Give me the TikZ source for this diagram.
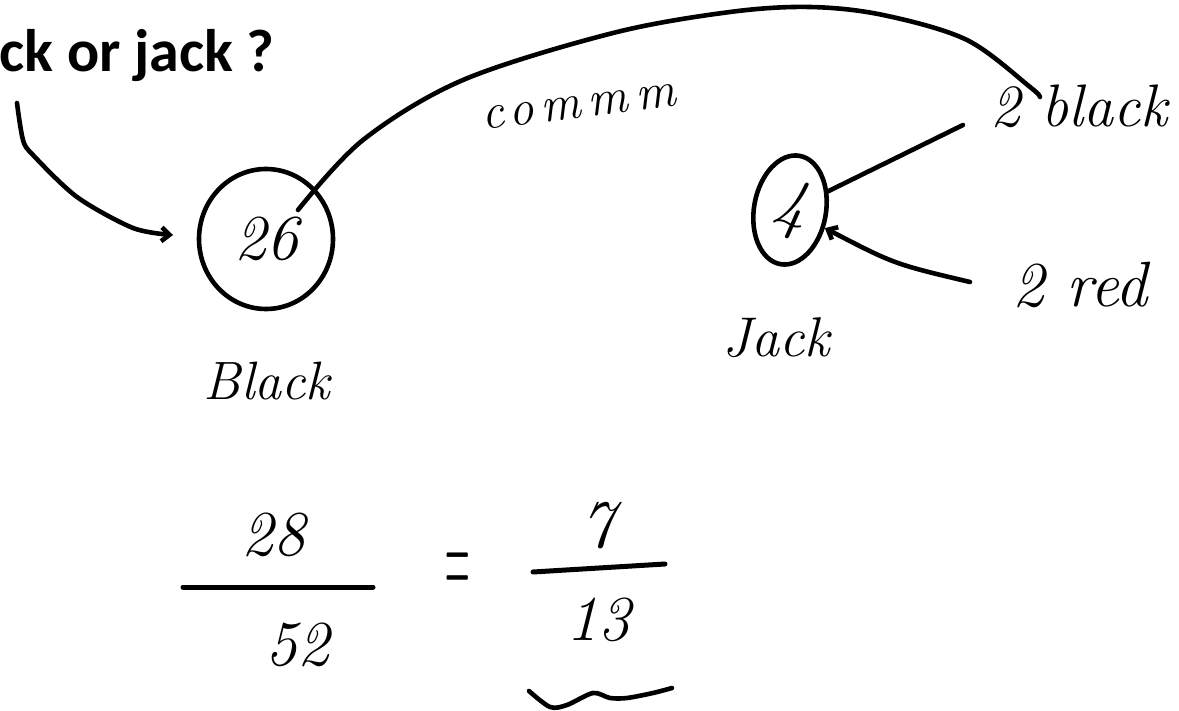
\documentclass[tikz,border=0pt]{standalone}
\usepackage{fontspec}
\newfontfamily\titlefont{Carlito}
\newfontfamily\spacedit{Latin Modern Roman}[LetterSpace=15]
\usetikzlibrary{arrows.meta,shapes.geometric}
\begin{document}
\begin{tikzpicture}[x=0.5pt,y=-0.5pt, line cap=round, line join=round,
  hand/.style={font=\fontsize{#1}{#1}\selectfont\itshape, inner sep=0pt},
  ink/.style={line width=2.3pt},
  tip/.style={-{Straight Barb[length=4pt,width=7pt]}}]
\useasboundingbox[fill=white] (0,0) rectangle (1179,711);

% title
\node[font=\fontsize{30}{30}\selectfont\titlefont\bfseries, inner sep=0pt, anchor=base east] (title) at (275,72) {ck or jack ?};

% circles
\node[draw, ink, ellipse, minimum width=67pt, minimum height=70pt, inner sep=0pt, hand=32] (n26) at (266,239) {26};
\node[draw, ink, ellipse, minimum width=36pt, minimum height=55pt, inner sep=0pt, hand=34, rotate=-10] (n4) at (790,210) {4};

% labels
\node[hand=27, anchor=base] (lblack) at (267,400) {Black};
\node[hand=28, anchor=base] (ljack) at (776,357) {Jack};
\node[font=\fontsize{25}{25}\selectfont\spacedit\itshape, inner sep=0pt, anchor=base, rotate=7] (lcommm) at (580,118) {commm};
\node[hand=30, anchor=base west] (l2black) at (990,127) {2 black};
\node[hand=32, anchor=base west] (l2red) at (1012,307) {2 red};

% connectors
\coordinate (qa) at (17,103);
\coordinate (qb) at (173,235);
\draw[ink, tip] plot[smooth] coordinates {(qa) (23,140) (33,155) (77,197) (133,228) (qb)};

\coordinate (c26) at (298,210);
\coordinate (cb) at (1040,97);
\draw[ink] plot[smooth, tension=0.55] coordinates {(c26) (363,140) (463,80) (613,33) (730,12) (810,7) (883,15) (967,40) (1030,87) (cb)};

\coordinate (b1) at (963,125);
\draw[ink] (n4) -- (b1);
\coordinate (r1) at (970,282);
\draw[ink, tip] (r1) .. controls (894,264) .. (n4);

% fraction
\node[hand=32, anchor=base] (n28) at (273,555) {28};
\node[hand=32, anchor=base] (n52) at (297,665) {52};
\draw[line width=2.5pt] (183,587) -- (373,587);
\node[font=\fontsize{20}{20}\selectfont, inner sep=0pt] (eq) at (458,576) {\scalebox{0.85}[3.2]{=}};
\node[hand=34, anchor=base] (n7) at (597,547) {7};
\draw[line width=2.5pt] (533,572) -- (665,564);
\node[hand=32, anchor=base] (n13) at (598,640) {13};
\draw[ink] plot[smooth] coordinates {(529,691) (550,707) (567,705) (593,693) (610,698) (627,698) (653,693) (672,688)};
\end{tikzpicture}
\end{document}
